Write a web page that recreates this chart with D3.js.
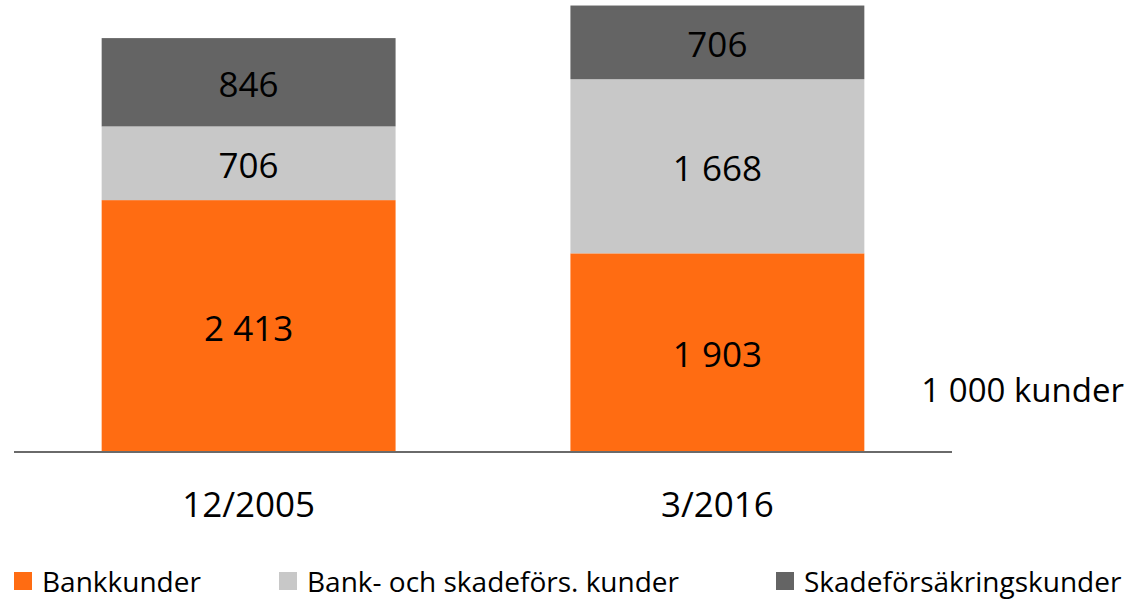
<!DOCTYPE html>
<html lang="sv">
<head>
<meta charset="UTF-8">
<title>Kunder</title>
<script src="https://d3js.org/d3.v7.min.js"></script>
<style>
  body { margin: 0; background: #fff; }
  text { font-family: "Open Sans", sans-serif; fill: #000; }
</style>
</head>
<body>
<svg id="chart"></svg>
<script>
const width = 1132;
const height = 602;

const periods = ["12/2005", "3/2016"];
const seriesNames = ["Bankkunder", "Bank- och skadeförs. kunder", "Skadeförsäkringskunder"];
const bankkunder = [2413, 1903];
const bankOchSkade = [706, 1668];
const skadeKunder = [846, 706];
const colors = ["#ff6c12", "#c8c8c8", "#646464"];
const unitLabel = "1 000 kunder";

const fmt = v => d3.format(",")(v).replace(/,/g, " ");

const rows = periods.map((p, i) => ({
  period: p,
  [seriesNames[0]]: bankkunder[i],
  [seriesNames[1]]: bankOchSkade[i],
  [seriesNames[2]]: skadeKunder[i]
}));

const stacked = d3.stack().keys(seriesNames)(rows);

const svg = d3.select("#chart")
  .attr("width", width)
  .attr("height", height);

const x = d3.scaleBand()
  .domain(periods)
  .range([14, 952])
  .paddingInner(0.373)
  .paddingOuter(0.187);

const y = d3.scaleLinear()
  .domain([0, 4330])
  .range([452, 0]);

const layer = svg.append("g")
  .selectAll("g")
  .data(stacked)
  .join("g")
  .attr("fill", (d, i) => colors[i]);

layer.selectAll("rect")
  .data(d => d)
  .join("rect")
  .attr("x", d => x(d.data.period))
  .attr("width", x.bandwidth())
  .attr("y", d => y(d[1]))
  .attr("height", d => y(d[0]) - y(d[1]));

layer.selectAll("text")
  .data(d => d)
  .join("text")
  .attr("x", d => x(d.data.period) + x.bandwidth() / 2)
  .attr("y", d => (y(d[0]) + y(d[1])) / 2)
  .attr("dy", "0.42em")
  .attr("text-anchor", "middle")
  .style("font-size", "35px")
  .text(d => fmt(d[1] - d[0]));

// baseline
svg.append("line")
  .attr("x1", 14)
  .attr("x2", 952)
  .attr("y1", y(0))
  .attr("y2", y(0))
  .attr("stroke", "#6a6a6a")
  .attr("stroke-width", 2);

// category labels
svg.append("g")
  .selectAll("text")
  .data(periods)
  .join("text")
  .attr("x", d => x(d) + x.bandwidth() / 2)
  .attr("y", 517)
  .attr("text-anchor", "middle")
  .style("font-size", "35px")
  .text(d => d);

svg.append("text")
  .attr("x", 1124)
  .attr("y", 402)
  .attr("text-anchor", "end")
  .style("font-size", "33px")
  .text(unitLabel);

// legend
const legendX = [14, 279, 776];
const legend = svg.append("g")
  .selectAll("g")
  .data(seriesNames)
  .join("g")
  .attr("transform", (d, i) => `translate(${legendX[i]},572)`);

legend.append("rect")
  .attr("width", 18)
  .attr("height", 18)
  .attr("fill", (d, i) => colors[i]);

legend.append("text")
  .attr("x", 28)
  .attr("y", 20)
  .style("font-size", "28px")
  .text(d => d);
</script>
</body>
</html>
